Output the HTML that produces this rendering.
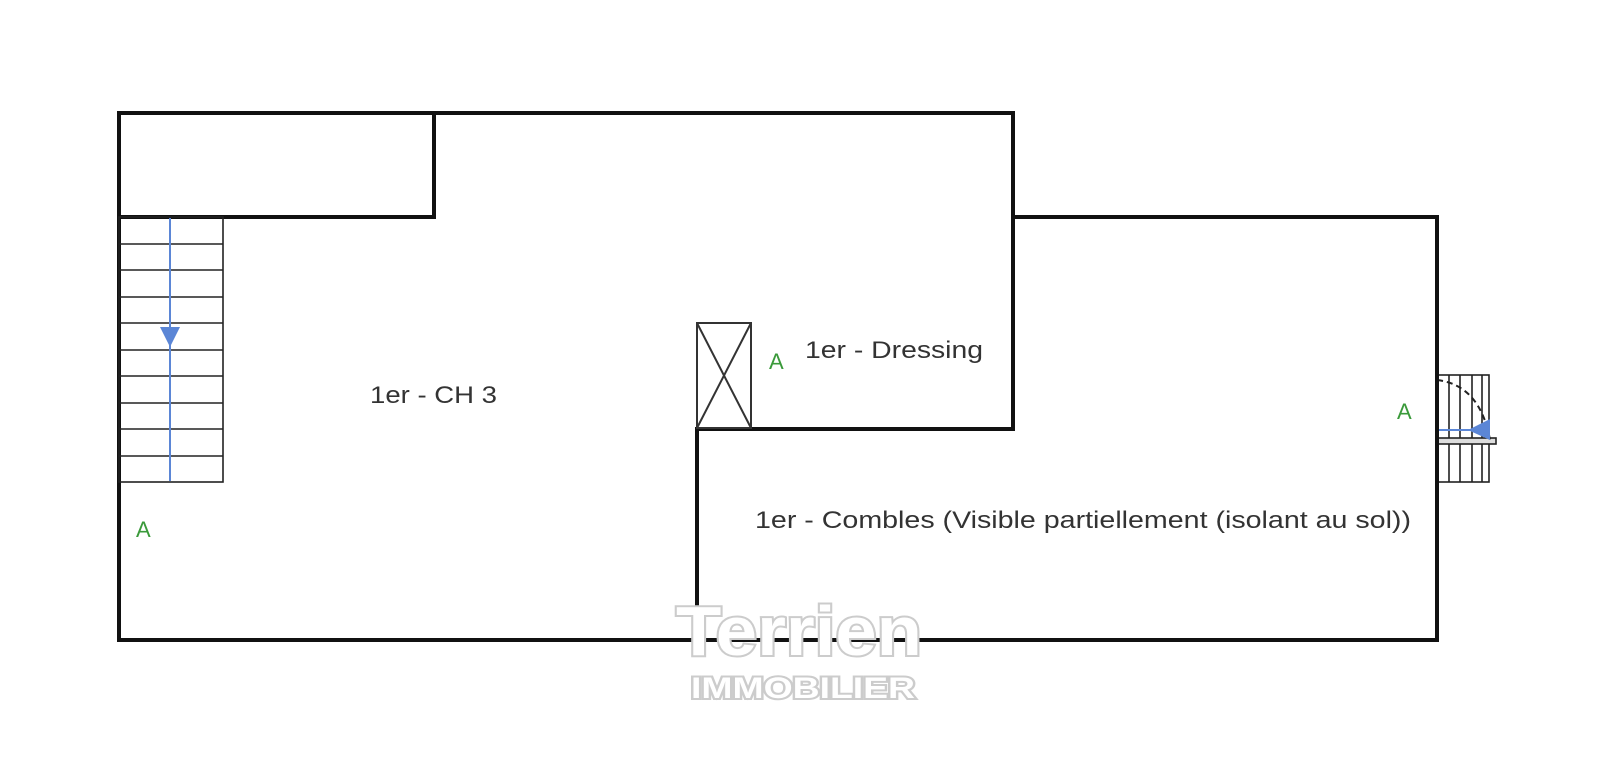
<!DOCTYPE html>
<html><head><meta charset="utf-8"><style>
html,body{margin:0;padding:0;background:#fff;}
svg{display:block;}
</style></head><body>
<svg width="1600" height="768" viewBox="0 0 1600 768" xmlns="http://www.w3.org/2000/svg">
<rect width="1600" height="768" fill="#fff"/>
<g stroke="#111" stroke-width="4" fill="none" stroke-linecap="square">
<path d="M119 113 H1013 V429 H697 V640 H119 Z"/>
<path d="M1013 217 H1437 V640 H697"/>
<path d="M119 217 H434 V113"/>
</g>
<!-- left stairs -->
<g stroke="#222" stroke-width="1.6" fill="none">
<rect x="119" y="217" width="104" height="265"/>
<path d="M119 244H223M119 270H223M119 297H223M119 323H223M119 350H223M119 376H223M119 403H223M119 429H223M119 456H223"/>
</g>
<line x1="170" y1="218" x2="170" y2="481" stroke="#5b86d6" stroke-width="2"/>
<polygon points="160,327 180,327 170,347" fill="#5b86d6"/>
<!-- shaft -->
<g stroke="#333" stroke-width="2" fill="none">
<rect x="697" y="323" width="54" height="105"/>
<path d="M697 323 L751 428 M751 323 L697 428"/>
</g>
<!-- right stairs -->
<g stroke="#222" stroke-width="1.6" fill="none">
<rect x="1437" y="375" width="52" height="107"/>
<path d="M1449 375V482M1460 375V482M1472 375V482M1482 375V482"/>
<rect x="1437" y="438" width="59" height="6" fill="#ddd"/>
</g>
<path d="M1437 380 Q1480 385 1490 440" stroke="#222" stroke-width="2" stroke-dasharray="6,4" fill="none"/>
<line x1="1438" y1="430" x2="1475" y2="430" stroke="#5b86d6" stroke-width="2"/>
<polygon points="1468,430 1490,419 1490,440" fill="#5b86d6"/>
<line x1="1437" y1="217" x2="1437" y2="640" stroke="#111" stroke-width="4"/>
<g font-family="Liberation Sans, sans-serif" font-size="24" fill="#333">
<text x="370" y="403" textLength="127" lengthAdjust="spacingAndGlyphs">1er - CH 3</text>
<text x="805" y="358" textLength="178" lengthAdjust="spacingAndGlyphs">1er - Dressing</text>
<text x="755" y="528" textLength="656" lengthAdjust="spacingAndGlyphs">1er - Combles (Visible partiellement (isolant au sol))</text>
</g>
<g font-family="Liberation Sans, sans-serif" font-size="22" fill="#3a9a3a">
<text x="136" y="537">A</text>
<text x="769" y="369">A</text>
<text x="1397" y="419">A</text>
</g>
<g font-family="Liberation Sans, sans-serif" font-weight="bold" fill="#fff" stroke="#ccc" stroke-width="4" paint-order="stroke">
<text x="676" y="655" font-size="70" textLength="246" lengthAdjust="spacingAndGlyphs">Terrien</text>
<text x="691" y="698" font-size="30" textLength="224" lengthAdjust="spacingAndGlyphs">IMMOBILIER</text>
</g>
</svg>
</body></html>
